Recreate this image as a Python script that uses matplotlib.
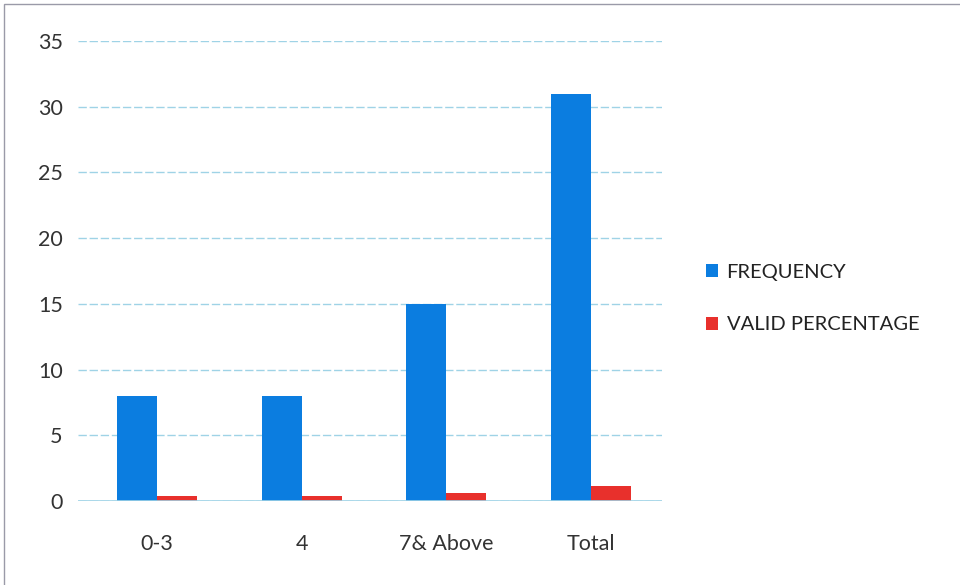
import matplotlib
matplotlib.use("Agg")
import matplotlib.pyplot as plt
from matplotlib.patches import Rectangle
import numpy as np

categories = ["0-3", "4", "7& Above", "Total"]
frequency = [8, 8, 15, 31]
valid_percentage = [0.35, 0.35, 0.6, 1.15]
y_ticks = [0, 5, 10, 15, 20, 25, 30, 35]

blue = "#0b7de0"
red = "#e8302c"
grid_color = "#9fd3e6"

plt.rcParams["font.family"] = ["Lato", "DejaVu Sans"]

fig = plt.figure(figsize=(9.6, 5.85), dpi=100)
fig.patch.set_facecolor("white")
ax = fig.add_axes([78 / 960, 1 - 501 / 585, (662 - 78) / 960, (501 - 41) / 585])

x = np.arange(len(categories))
w = 0.276
ax.bar(x - w / 2, frequency, width=w, color=blue, label="FREQUENCY", zorder=3)
ax.bar(x + w / 2, valid_percentage, width=w, color=red, label="VALID PERCENTAGE", zorder=3)

ax.set_xlim(-0.545, 3.49)
ax.set_ylim(0, 35)
ax.set_yticks(y_ticks)
ax.set_yticklabels([str(v) for v in y_ticks], fontsize=15.5, color="#333333")
ax.set_xticks(x)
ax.set_xticklabels(categories, fontsize=15.5, color="#333333")
ax.tick_params(axis="both", length=0)
ax.tick_params(axis="y", pad=11)
ax.tick_params(axis="x", pad=24)
ax.grid(axis="y", color=grid_color, linewidth=1.0, linestyle=(0, (6, 2)), zorder=0)
ax.axhline(0, color=grid_color, linewidth=1.2, zorder=4)
for s in ax.spines.values():
    s.set_visible(False)

leg = ax.legend(loc="center left", bbox_to_anchor=(1.045, 0.44), frameon=False,
                fontsize=14.5, handlelength=0.6, handleheight=0.6, handletextpad=0.4,
                labelspacing=1.75, labelcolor="#222222")

# outer chart frame
fig.add_artist(Rectangle((0.004, -0.01), 1.2, 1.003, transform=fig.transFigure,
                         fill=False, edgecolor="#9a9aa8", linewidth=1.0))

fig.savefig("out.png", dpi=100, facecolor="white")
